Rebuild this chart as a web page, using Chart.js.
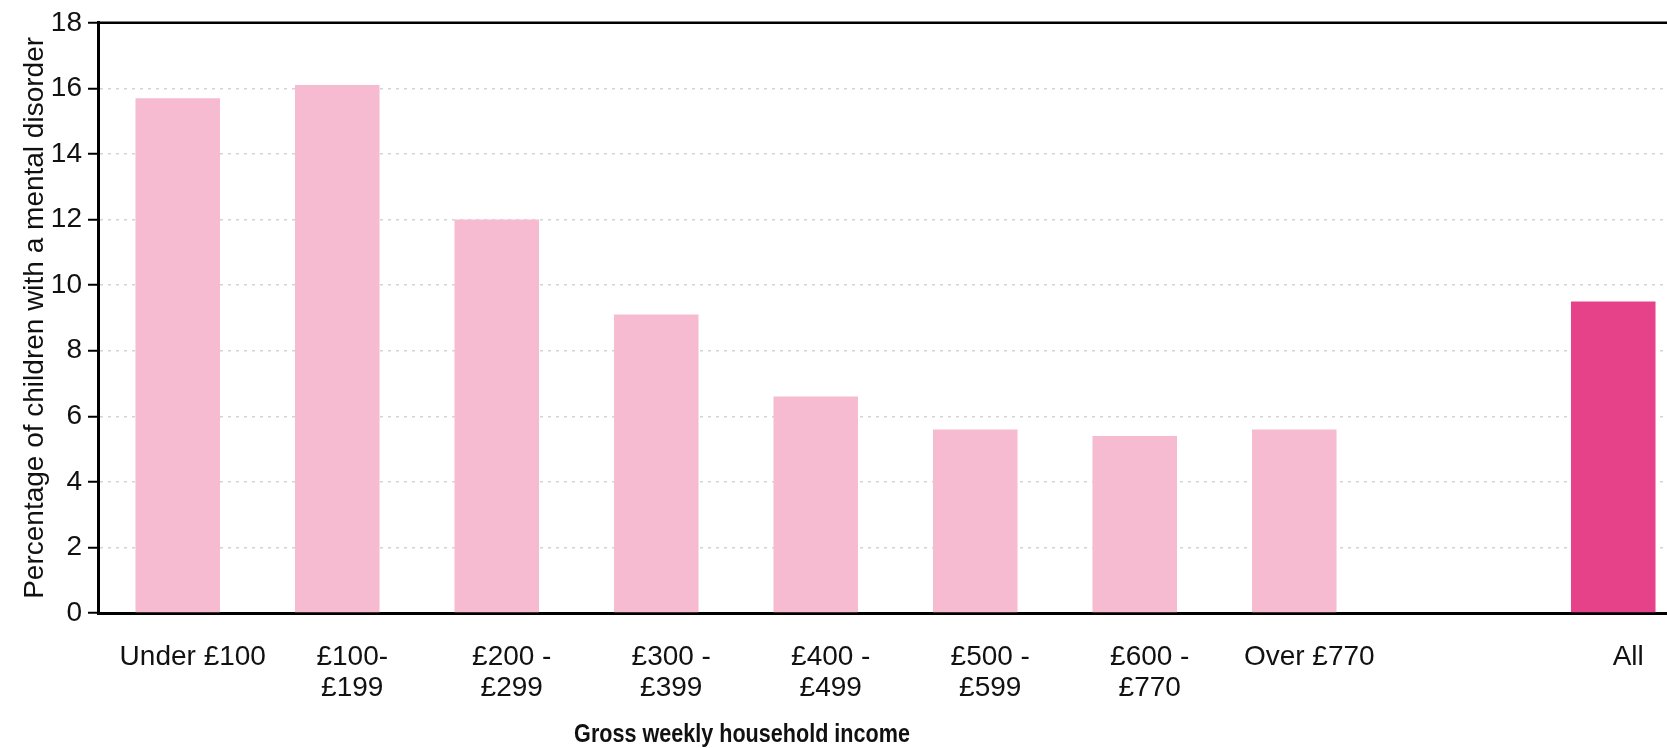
<!DOCTYPE html>
<html>
<head>
<meta charset="utf-8">
<script src="https://cdn.jsdelivr.net/npm/chart.js@4/dist/chart.umd.min.js"></script>
<style>
  html, body { margin: 0; padding: 0; overflow: hidden; background: #fff; }
  #wrap { position: relative; width: 1700px; height: 748px; }
</style>
</head>
<body>
<div id="wrap"><canvas id="income-chart"></canvas></div>
<script>
// income bands, the empty slot is the gap before "All"
var incomeBands = ['Under £100', ['£100-', '£199'], ['£200 -', '£299'], ['£300 -', '£399'],
  ['£400 -', '£499'], ['£500 -', '£599'], ['£600 -', '£770'], 'Over £770', '', 'All'];
var disorderPct = [15.7, 16.1, 12.0, 9.1, 6.6, 5.6, 5.4, 5.6, null, 9.5];
var yTicks = [0, 2, 4, 6, 8, 10, 12, 14, 16, 18];

var lightPink = '#F6BBD0';
var darkPink = '#E6428A';

var barColors = [];
for (var i = 0; i < incomeBands.length; i++) {
  barColors.push(incomeBands[i] === 'All' ? darkPink : lightPink);
}

var xTitle = 'Gross weekly household income';
var yTitle = 'Percentage of children with a mental disorder';

// top frame line + x axis title centred over the income bands
var extras = {
  id: 'extras',
  afterDraw: function(chart) {
    var ctx = chart.ctx;
    var area = chart.chartArea;
    ctx.save();
    ctx.strokeStyle = '#000';
    ctx.lineWidth = 2.5;
    ctx.beginPath();
    ctx.moveTo(area.left - 1, area.top);
    ctx.lineTo(area.right, area.top);
    ctx.stroke();

    var x = chart.scales.x;
    var mid = (x.getPixelForValue(0) + x.getPixelForValue(7)) / 2 + 6;
    ctx.fillStyle = '#111';
    ctx.font = 'bold 26px "Liberation Sans", Arial, sans-serif';
    ctx.textAlign = 'center';
    ctx.textBaseline = 'middle';
    // the original uses a condensed bold face, squeeze it a little
    ctx.translate(mid, 735);
    ctx.scale(0.83, 1);
    ctx.fillText(xTitle, 0, 0);
    ctx.restore();
  }
};

var ctx = document.getElementById('income-chart').getContext('2d');
var chart = new Chart(ctx, {
  type: 'bar',
  data: {
    labels: incomeBands,
    datasets: [{
      data: disorderPct,
      backgroundColor: barColors,
      borderWidth: 0,
      barPercentage: 0.53,
      categoryPercentage: 1
    }]
  },
  options: {
    responsive: true,
    maintainAspectRatio: false,
    animation: false,
    layout: { padding: { top: 21, right: 7, bottom: 0, left: 0 } },
    plugins: {
      legend: { display: false },
      tooltip: { enabled: false }
    },
    scales: {
      x: {
        grid: { display: false, drawTicks: false },
        border: { display: true, color: '#000', width: 3 },
        ticks: {
          color: '#111',
          font: { family: '"Liberation Sans", Arial, sans-serif', size: 28, lineHeight: 1.1 },
          padding: 29,
          labelOffset: 15,
          maxRotation: 0,
          autoSkip: false
        },
        afterFit: function(scale) { scale.height = 135; }
      },
      y: {
        min: 0,
        max: 18,
        afterBuildTicks: function(scale) {
          scale.ticks = yTicks.map(function(v) { return { value: v }; });
        },
        grid: {
          color: '#d4d4d4',
          lineWidth: 1.5,
          tickColor: '#000',
          tickWidth: 2,
          tickLength: 10,
          tickBorderDash: []
        },
        border: { display: true, color: '#000', width: 3, dash: [3, 5] },
        ticks: {
          color: '#111',
          font: { family: '"Liberation Sans", Arial, sans-serif', size: 28 },
          padding: 6
        },
        title: {
          display: true,
          text: yTitle,
          color: '#111',
          font: { family: '"Liberation Sans", Arial, sans-serif', size: 28, weight: 'normal' },
          padding: { top: 18, bottom: 0 }
        },
        afterFit: function(scale) { scale.width = 98; }
      }
    }
  },
  plugins: [extras]
});
</script>
</body>
</html>
